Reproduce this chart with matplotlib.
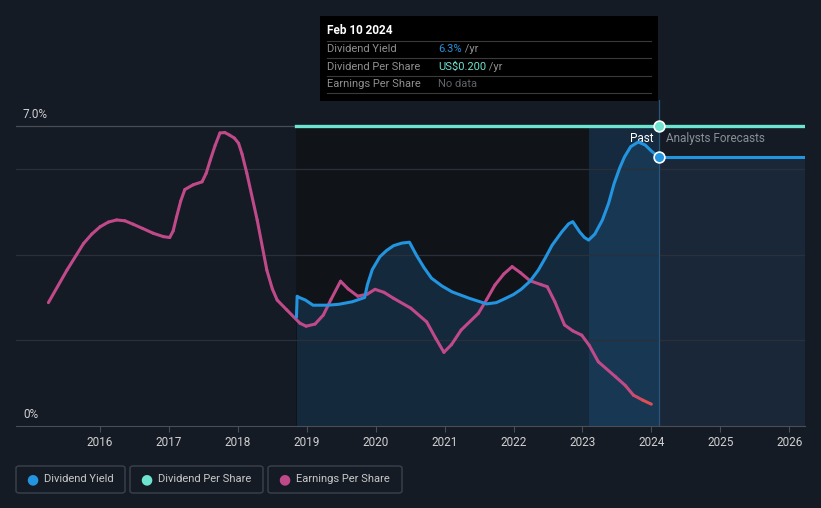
import matplotlib.pyplot as plt
import numpy as np
from matplotlib.collections import LineCollection
from matplotlib.patches import FancyBboxPatch

plt.rcParams['font.family'] = ['Roboto', 'DejaVu Sans']

BG = "#151b25"
BLUE = "#2394df"
TEAL = "#6ee3cf"
PINK = "#c0498a"

# Dividend yield (%), past and forecast
yield_years = [2018.85, 2018.86, 2018.89, 2018.98, 2019.09, 2019.30, 2019.46, 2019.66, 2019.84,
               2019.88, 2019.95, 2020.06, 2020.16, 2020.26, 2020.38, 2020.49, 2020.59, 2020.70,
               2020.81, 2020.96, 2021.11, 2021.36, 2021.61, 2021.75, 2021.86, 2022.0, 2022.11,
               2022.24, 2022.36, 2022.46, 2022.56, 2022.70, 2022.80, 2022.86, 2022.96, 2023.03,
               2023.09, 2023.18, 2023.29, 2023.38, 2023.46, 2023.54, 2023.61, 2023.70, 2023.81,
               2023.91, 2024.0, 2024.11]
yield_vals = [2.55, 3.03, 3.00, 2.94, 2.82, 2.82, 2.84, 2.90, 3.00,
              3.30, 3.65, 3.95, 4.10, 4.21, 4.27, 4.29, 3.99, 3.70,
              3.45, 3.27, 3.13, 2.98, 2.85, 2.88, 2.96, 3.07, 3.19,
              3.38, 3.64, 3.92, 4.22, 4.53, 4.72, 4.77, 4.53, 4.40,
              4.34, 4.48, 4.81, 5.20, 5.66, 6.02, 6.28, 6.52, 6.63,
              6.56, 6.42, 6.27]
forecast_years = [2024.11, 2026.23]
forecast_yield = [6.27, 6.27]

# Dividend per share (US$)
dps_years = [2018.85, 2024.11, 2026.23]
dps_vals = [0.2, 0.2, 0.2]

# Earnings per share (drawn on the chart's own scale, no axis shown)
eps_years = [2015.25, 2015.52, 2015.76, 2015.88, 2016.0, 2016.12, 2016.24, 2016.36, 2016.48,
             2016.62, 2016.77, 2016.92, 2017.01, 2017.06, 2017.11, 2017.17, 2017.23, 2017.35,
             2017.48, 2017.54, 2017.60, 2017.67, 2017.74, 2017.81, 2017.88, 2017.95, 2018.01,
             2018.06, 2018.13, 2018.28, 2018.42, 2018.50, 2018.57, 2018.71, 2018.90, 2018.99,
             2019.12, 2019.24, 2019.35, 2019.49, 2019.60, 2019.74, 2019.88, 2019.99, 2020.12,
             2020.26, 2020.51, 2020.74, 2020.87, 2020.99, 2021.10, 2021.24, 2021.49, 2021.61,
             2021.73, 2021.86, 2021.98, 2022.10, 2022.24, 2022.40, 2022.49, 2022.60, 2022.74,
             2022.86, 2022.99, 2023.10, 2023.23, 2023.48, 2023.62, 2023.74, 2023.88, 2024.0]
eps_vals = [2.88, 3.64, 4.26, 4.48, 4.65, 4.76, 4.81, 4.79, 4.71,
            4.61, 4.50, 4.42, 4.40, 4.55, 4.88, 5.25, 5.52, 5.63,
            5.70, 5.90, 6.21, 6.55, 6.84, 6.85, 6.79, 6.72, 6.60,
            6.35, 5.90, 4.81, 3.64, 3.20, 2.94, 2.71, 2.40, 2.33,
            2.38, 2.59, 2.95, 3.38, 3.20, 3.03, 3.08, 3.19, 3.12,
            2.98, 2.75, 2.43, 2.05, 1.72, 1.90, 2.24, 2.63, 2.95,
            3.29, 3.55, 3.72, 3.58, 3.39, 3.30, 3.25, 2.90, 2.36,
            2.22, 2.12, 1.88, 1.50, 1.15, 0.95, 0.72, 0.60, 0.51]

x_ticks = [2016, 2017, 2018, 2019, 2020, 2021, 2022, 2023, 2024, 2025, 2026]
today = 2024.11
highlight_start = 2023.1
YMAX = 7.61

fig = plt.figure(figsize=(8.21, 5.08), dpi=100, facecolor=BG)
ax = fig.add_axes([16 / 821, 82 / 508, 789 / 821, 326 / 508])
ax.set_facecolor(BG)
ax.set_xlim(2014.78, 2026.23)
ax.set_ylim(0, YMAX)

# background regions
ax.fill_between([yield_years[0], highlight_start], 0, 7.0, color="#101419", lw=0, zorder=0)
ax.fill_between([highlight_start, today], 0, 7.0, color="#13202e", lw=0, zorder=0)
ax.fill_between(yield_years, 0, yield_vals, color="#1c4468", alpha=0.45, lw=0, zorder=1)
ax.fill_between(forecast_years, 0, forecast_yield, color="#1c2b3d", alpha=0.8, lw=0, zorder=1)
ax.fill_between([highlight_start, today], 0, 7.0, color="#1f5a8a", alpha=0.18, lw=0, zorder=1)

# grid
for g in [2, 4, 6]:
    ax.axhline(g, color="#2a3039", lw=0.9, zorder=1)
ax.axhline(7.0, color="#474c55", lw=0.9, zorder=1)
ax.axvline(today, ymin=0, ymax=1, color="#2a5478", lw=0.9, zorder=2)

# lines
ax.plot(yield_years, yield_vals, color=BLUE, lw=2.2, zorder=4, solid_joinstyle="round")
ax.plot(forecast_years, forecast_yield, color=BLUE, lw=2.2, zorder=4)

ax2 = ax.twinx()
ax2.set_ylim(0, 0.2 * YMAX / 7.0)
ax2.axis("off")
ax2.plot(dps_years, dps_vals, color=TEAL, lw=2.4, zorder=4)
ax2.scatter([today], [0.2], s=60, color=TEAL, edgecolors="white", linewidths=1.2, zorder=6)

# eps line with reddish tail
pts = np.array([eps_years, eps_vals]).T.reshape(-1, 1, 2)
segs = np.concatenate([pts[:-1], pts[1:]], axis=1)
cols = []
for yr in eps_years[:-1]:
    if yr < 2023.55:
        cols.append(PINK)
    else:
        t = min(1, (yr - 2023.55) / 0.35)
        c0 = np.array([0xc0, 0x49, 0x8a]) / 255
        c1 = np.array([0xe0, 0x4f, 0x4f]) / 255
        cols.append(tuple(c0 + (c1 - c0) * t))
lc = LineCollection(segs, colors=cols, linewidths=2.2, capstyle="round", joinstyle="round", zorder=3)
ax.add_collection(lc)

ax.scatter([today], [forecast_yield[0]], s=60, color=BLUE, edgecolors="white", linewidths=1.2, zorder=6)

# axes styling
for s in ["top", "right", "left"]:
    ax.spines[s].set_visible(False)
ax.spines["bottom"].set_color("#4a4f57")
ax.set_yticks([])
ax.set_xticks(x_ticks)
ax.set_xticklabels([str(t) for t in x_ticks], color="#d0d0d0", fontsize=8.5)
ax.tick_params(axis="x", colors="#4a4f57", length=4, labelcolor="#d0d0d0", pad=3)

ax.text(2014.88, 7.12, "7.0%", color="#d0d0d0", fontsize=8.5, va="bottom")
ax.text(2014.88, 0.12, "0%", color="#d0d0d0", fontsize=8.5, va="bottom")
ax.text(today - 0.08, 6.7, "Past", color="white", fontsize=8.5, ha="right", va="center")
ax.text(today + 0.1, 6.7, "Analysts Forecasts", color="#8a8f96", fontsize=8.5, ha="left", va="center")

# tooltip
tip = fig.add_axes([320 / 821, 407 / 508, 338 / 821, 85 / 508])
tip.set_xlim(0, 338)
tip.set_ylim(85, 0)
tip.set_facecolor("black")
tip.set_xticks([])
tip.set_yticks([])
for s in tip.spines.values():
    s.set_visible(False)
tip.text(7, 15, "Feb 10 2024", color="white", fontsize=8.5, fontweight="bold", va="center")
rows = [("Dividend Yield", "6.3%", BLUE, " /yr"),
        ("Dividend Per Share", "US$0.200", TEAL, " /yr"),
        ("Earnings Per Share", "No data", "#5f6368", "")]
for i, (lab, val, col, unit) in enumerate(rows):
    yy = 33 + i * 17.5
    tip.axhline(yy - 8.5, xmin=7 / 338, xmax=331 / 338, color="#3a3a3a", lw=0.8)
    tip.text(7, yy, lab, color="#8f8f8f", fontsize=8, va="center")
    t = tip.text(118, yy, val, color=col, fontsize=8, va="center")
    if unit:
        fig.canvas.draw()
        bb = t.get_window_extent().transformed(tip.transData.inverted())
        tip.text(bb.x1, yy, unit, color="#8f8f8f", fontsize=8, va="center")
tip.axhline(33 + 3 * 17.5 - 8.5, xmin=7 / 338, xmax=331 / 338, color="#3a3a3a", lw=0.8)

# legend
leg = [("Dividend Yield", BLUE, 16, 109), ("Dividend Per Share", TEAL, 130, 133),
       ("Earnings Per Share", PINK, 268, 134)]
for lab, col, x0, w in leg:
    box = FancyBboxPatch((x0 / 821, (508 - 493) / 508), w / 821, 27 / 508,
                         boxstyle="round,pad=0,rounding_size=0.004", transform=fig.transFigure,
                         facecolor="none", edgecolor="#3c424c", lw=1)
    fig.patches.append(box)
    fig.text((x0 + 16) / 821, (508 - 479) / 508, "\u25CF", color=col, fontsize=10,
             va="center", ha="center", family="DejaVu Sans")
    fig.text((x0 + 28) / 821, (508 - 479) / 508, lab, color="#c8c8c8", fontsize=8, va="center")

fig.savefig("out.png", dpi=100, facecolor=BG)
